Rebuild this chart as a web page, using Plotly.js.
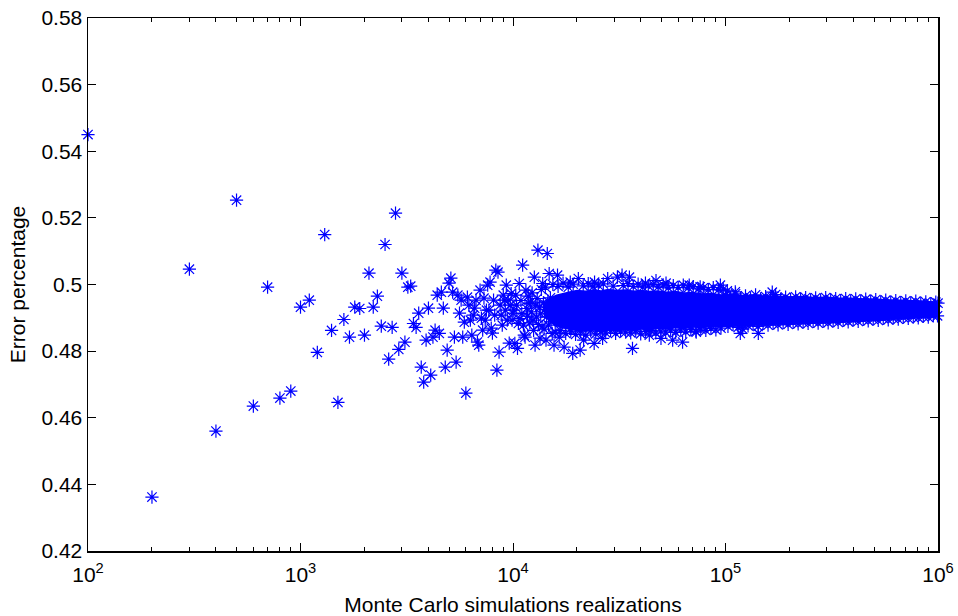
<!DOCTYPE html>
<html>
<head>
<meta charset="utf-8">
<script src="https://cdn.plot.ly/plotly-3.0.1.min.js"></script>
<style>html,body{margin:0;padding:0;background:#fff;}#chart{width:958px;height:616px;}</style>
</head>
<body>
<div id="chart"></div>
<script>
// ---- Sparse realizations (100 .. 10000) ----
const sparseX = [100,200,300,400,500,600,700,800,900,1000,1100,1200,1300,1400,1500,1600,1700,1800,1900,2000,
  2100,2200,2300,2400,2500,2600,2700,2800,2900,3000,3100,3200,3300,3400,3500,3600,3700,3800,3900,4000,
  4100,4200,4300,4400,4500,4600,4700,4800,4900,5000,5100,5200,5300,5400,5500,5600,5700,5800,5900,6000,
  6100,6200,6300,6400,6500,6600,6700,6800,6900,7000,7100,7200,7300,7400,7500,7600,7700,7800,7900,8000,
  8100,8200,8300,8400,8500,8600,8700,8800,8900,9000,9100,9200,9300,9400,9500,9600,9700,9800,9900,10000];
const sparseY = [0.5450,0.4362,0.5046,0.4560,0.5253,0.4635,0.4992,0.4659,0.4680,0.4932,0.4953,0.4796,0.5150,0.4862,0.4646,0.4895,0.4842,0.4932,0.4928,0.4848,
  0.5034,0.4932,0.4965,0.4875,0.5120,0.4776,0.4871,0.5214,0.4805,0.5034,0.4827,0.4992,0.4995,0.4883,0.4871,0.4914,0.4752,0.4707,0.4833,0.4929,
  0.4728,0.4842,0.4863,0.4968,0.4853,0.4977,0.4929,0.4752,0.4803,0.5004,0.5019,0.4977,0.4842,0.4767,0.4968,0.4914,0.4953,0.4842,0.4887,0.4674,
  0.4962,0.4938,0.4893,0.4848,0.4908,0.4929,0.4953,0.4827,0.4818,0.4983,0.4899,0.4863,0.4959,0.4893,0.4923,0.4998,0.4923,0.5007,0.4869,0.4854,
  0.4953,0.4908,0.5043,0.4743,0.5037,0.4797,0.4938,0.4908,0.4878,0.4968,0.4953,0.4923,0.4998,0.4893,0.4953,0.4824,0.4938,0.4973,0.4893,0.4914];

// ---- Realizations 10^4 .. 10^5 (scattered and band edges) ----
const midX = [10100,10200,10300,10400,10500,10600,10700,10800,10900,11000,11100,11200,11300,11400,11500,11600,11700,11800,11900,12000,
  12100,12200,12300,12400,12500,12600,12700,12800,12900,13000,13100,13200,13300,13400,13500,13600,13700,13800,13900,14000,
  14100,14200,14300,14400,14500,14600,14700,14800,14900,15000,15100,15200,15300,15600,16200,16500,17400,18600,19100,20700,
  21500,24100,26400,36500,43800,49700,56400,62800,72800,
  15400,16300,17200,18200,19200,20300,21400,22600,23800,24200,25200,26600,27900,29600,31000,32600,33000,34800,35300,36800,
  38800,40800,42000,43300,45700,47100,48200,50900,52500,53800,56800,59900,63300,66800,67500,70500,74500,76000,78600,83000,
  87600,92500,94600,97600,
  15800,16700,17700,18700,19700,20800,22000,23200,24500,25900,27300,28800,30400,32100,33900,35800,37800,39900,42100,44500,
  47000,49600,52300,55200,58300,61600,65000,68700,72500,76500,80800,85400,90100,95200];
const midY = [0.4923,0.4823,0.4968,0.4938,0.4808,0.4883,0.5003,0.4898,0.4952,0.4913,0.5058,0.4878,0.4848,0.4842,0.4983,0.4928,0.4905,0.4965,0.4943,0.4885,
  0.4947,0.4918,0.4975,0.4893,0.4862,0.5022,0.4818,0.4938,0.4902,0.4958,0.5103,0.4880,0.4932,0.4839,0.4912,0.4985,0.4873,0.5003,0.4945,0.4866,
  0.4925,0.4992,0.4833,0.4903,0.5093,0.4950,0.4878,0.5033,0.4918,0.4960,0.4888,0.4936,0.4853,0.4818,0.5028,0.4842,0.4812,0.5007,0.4793,0.4803,
  0.4833,0.4823,0.4838,0.4808,0.4848,0.4838,0.4833,0.4827,0.4857,
  0.5000,0.4994,0.5004,0.4992,0.5001,0.5018,0.4996,0.5003,0.4993,0.5007,0.4998,0.5002,0.5018,0.4995,0.5022,0.5028,0.4997,0.5003,0.5022,0.4994,
  0.5001,0.4992,0.5004,0.4996,0.5000,0.5012,0.4993,0.4999,0.5004,0.4990,0.4997,0.4991,0.4998,0.4990,0.4998,0.4994,0.4987,0.4993,0.4990,0.4985,
  0.4991,0.4984,0.4998,0.4986,
  0.4857,0.4862,0.4853,0.4860,0.4850,0.4858,0.4848,0.4861,0.4852,0.4859,0.4855,0.4862,0.4853,0.4860,0.4857,0.4855,0.4861,0.4852,0.4859,0.4862,
  0.4855,0.4860,0.4857,0.4863,0.4856,0.4864,0.4858,0.4865,0.4860,0.4866,0.4862,0.4868,0.4864,0.4869];

// ---- Realizations 10^5 .. 10^6 (band edges and a few outliers) ----
const highX = [100000,105600,111500,117700,124200,131200,138500,146200,154400,163000,172100,181700,191800,202500,213800,225700,238300,251600,265600,280400,
  296100,312600,330000,348400,367800,388300,410000,432800,456900,482400,509300,537700,567600,599300,632700,667900,705200,744500,786000,829800,
  876000,924900,976400,1000000,
  102700,108500,114600,121000,127700,134800,142300,150300,158600,167500,176800,186700,197100,208100,219700,231900,244800,258500,272900,288100,
  304200,321100,339000,357900,377900,398900,421200,444700,469500,495600,523300,552400,583200,615700,650100,686300,724600,765000,807600,852700,
  900200,950400,995000,
  102000,111200,117400,142700,166000,120500];
const highY = [0.4968,0.4961,0.4972,0.4958,0.4966,0.4960,0.4969,0.4957,0.4964,0.4959,0.4970,0.4956,0.4962,0.4955,0.4963,0.4957,0.4961,0.4954,0.4960,0.4953,
  0.4961,0.4955,0.4958,0.4952,0.4958,0.4951,0.4957,0.4950,0.4956,0.4950,0.4955,0.4948,0.4953,0.4947,0.4952,0.4946,0.4951,0.4945,0.4950,0.4944,
  0.4948,0.4943,0.4947,0.4944,
  0.4874,0.4880,0.4871,0.4879,0.4876,0.4882,0.4874,0.4883,0.4878,0.4884,0.4879,0.4886,0.4880,0.4886,0.4882,0.4887,0.4883,0.4889,0.4884,0.4890,
  0.4885,0.4891,0.4886,0.4892,0.4888,0.4893,0.4889,0.4895,0.4891,0.4896,0.4892,0.4898,0.4894,0.4899,0.4896,0.4901,0.4898,0.4902,0.4900,0.4904,
  0.4902,0.4906,0.4906,
  0.4981,0.4978,0.4853,0.4853,0.4977,0.4866];

// ---- Solid core of the dense cloud (envelope) ----
const coreX   = [14000,15000,16000,17000,18500,20000,22000,24000,26000,28000,31000,34000,37000,40000,44000,48000,53000,58000,64000,70000,
  78000,86000,95000,105000,120000,135000,155000,175000,200000,230000,260000,300000,340000,390000,450000,520000,600000,690000,800000,900000,1000000];
const coreTop = [0.4945,0.4962,0.4970,0.4975,0.4980,0.4984,0.4982,0.4986,0.4983,0.4987,0.4984,0.4986,0.4982,0.4984,0.4981,0.4983,0.4979,0.4981,0.4977,0.4978,
  0.4974,0.4975,0.4971,0.4972,0.4969,0.4970,0.4967,0.4968,0.4965,0.4966,0.4963,0.4964,0.4961,0.4961,0.4958,0.4958,0.4955,0.4955,0.4952,0.4951,0.4949];
const coreBot = [0.4905,0.4885,0.4874,0.4868,0.4864,0.4860,0.4858,0.4862,0.4857,0.4861,0.4859,0.4863,0.4860,0.4864,0.4862,0.4866,0.4864,0.4868,0.4866,0.4870,
  0.4869,0.4872,0.4871,0.4874,0.4873,0.4876,0.4876,0.4879,0.4879,0.4882,0.4882,0.4884,0.4885,0.4887,0.4888,0.4891,0.4892,0.4895,0.4896,0.4899,0.4901];

// ---- Axis ticks ----
const xTickVals = [100,1000,10000,100000,1000000];
const xTickText = ['10<sup>2</sup>','10<sup>3</sup>','10<sup>4</sup>','10<sup>5</sup>','10<sup>6</sup>'];
const xMinorVals = [200,300,400,500,600,700,800,900,2000,3000,4000,5000,6000,7000,8000,9000,
  20000,30000,40000,50000,60000,70000,80000,90000,200000,300000,400000,500000,600000,700000,800000,900000];
const yTickVals = [0.42,0.44,0.46,0.48,0.5,0.52,0.54,0.56,0.58];
const yTickText = ['0.42','0.44','0.46','0.48','0.5','0.52','0.54','0.56','0.58'];

const BLUE = '#0000ff';
const allX = sparseX.concat(midX, highX);
const allY = sparseY.concat(midY, highY);

const traces = [
  {x: coreX, y: coreBot, type: 'scatter', mode: 'lines', line: {width: 0, color: BLUE}, hoverinfo: 'skip'},
  {x: coreX, y: coreTop, type: 'scatter', mode: 'lines', fill: 'tonexty', fillcolor: BLUE, line: {width: 0, color: BLUE}, hoverinfo: 'skip'},
  {x: allX, y: allY, type: 'scatter', mode: 'markers', cliponaxis: false,
   marker: {symbol: 'asterisk-open', size: 11, color: BLUE, line: {color: BLUE, width: 1.2}}}
];

const FONT = 'Liberation Sans, Arial, Helvetica, sans-serif';
const FS = 21;
const layout = {
  width: 958, height: 616,
  margin: {l: 88, r: 20, t: 18, b: 65},
  paper_bgcolor: '#ffffff', plot_bgcolor: '#ffffff',
  showlegend: false, hovermode: false,
  font: {family: FONT, size: FS, color: '#000000'},
  xaxis: {
    type: 'log', range: [2, 6], autorange: false,
    tickmode: 'array', tickvals: xTickVals, ticktext: xTickText,
    ticks: 'inside', ticklen: 8, tickwidth: 1, tickcolor: '#000',
    minor: {tickmode: 'array', tickvals: xMinorVals, ticks: 'inside', ticklen: 4, tickwidth: 1, tickcolor: '#000', showgrid: false},
    showline: true, linecolor: '#000', linewidth: 1.5, mirror: 'ticks',
    showgrid: false, zeroline: false, automargin: false,
    ticklabelstandoff: 4,
    tickfont: {family: FONT, size: FS, color: '#000'},
    title: {text: 'Monte Carlo simulations realizations', font: {family: FONT, size: FS, color: '#000'}, standoff: 14}
  },
  yaxis: {
    range: [0.42, 0.58], autorange: false,
    tickmode: 'array', tickvals: yTickVals, ticktext: yTickText,
    ticks: 'inside', ticklen: 8, tickwidth: 1, tickcolor: '#000',
    showline: true, linecolor: '#000', linewidth: 1.5, mirror: 'ticks',
    showgrid: false, zeroline: false, automargin: false,
    tickfont: {family: FONT, size: FS, color: '#000'},
    title: {text: 'Error percentage', font: {family: FONT, size: FS, color: '#000'}, standoff: 10}
  }
};

Plotly.newPlot('chart', traces, layout, {staticPlot: true, displayModeBar: false});
</script>
</body>
</html>
